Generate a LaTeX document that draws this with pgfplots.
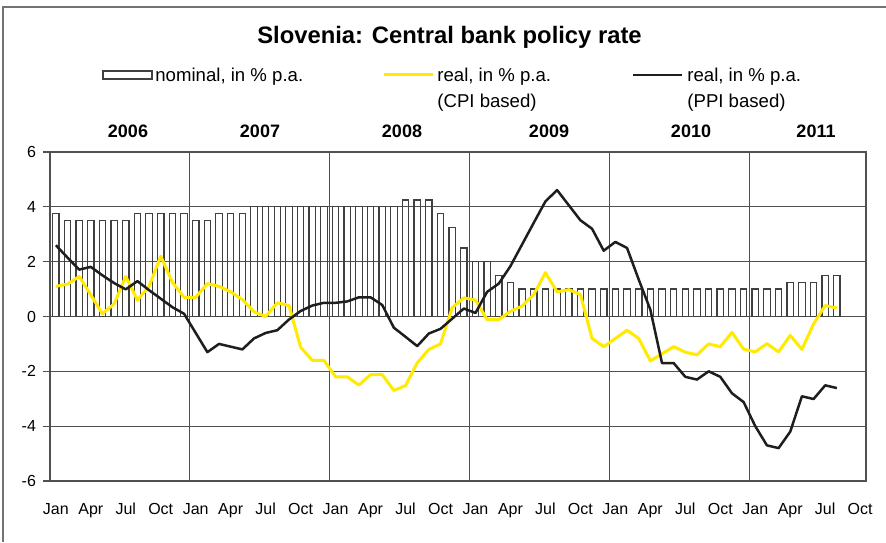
\documentclass[border=0pt]{standalone}
\usepackage{pgfplots}
\pgfplotsset{compat=1.18}
\usepackage{pgfplotstable}
\usepackage{fontspec}
\setmainfont{Liberation Sans}
\definecolor{cpiyellow}{RGB}{255,234,0}
\definecolor{gridgray}{RGB}{80,80,80}
\definecolor{ppiblack}{RGB}{30,30,30}

% month index 0 = Jan 2006
\pgfplotstableread{
i  nom   cpi    ppi
0  3.75  1.10   2.60
1  3.5   1.18   2.15
2  3.5   1.46   1.71
3  3.5   0.79   1.81
4  3.5   0.10   1.50
5  3.5   0.46   1.22
6  3.5   1.46   0.99
7  3.75  0.60   1.29
8  3.75  1.10   0.96
9  3.75  2.20   0.65
10 3.75  1.25   0.34
11 3.75  0.70   0.10
12 3.5   0.70  -0.60
13 3.5   1.20  -1.30
14 3.75  1.10  -1.00
15 3.75  0.90  -1.10
16 3.75  0.62  -1.20
17 4.0   0.17  -0.80
18 4.0   0.00  -0.60
19 4.0   0.50  -0.50
20 4.0   0.40  -0.11
21 4.0  -1.12   0.20
22 4.0  -1.60   0.40
23 4.0  -1.60   0.50
24 4.0  -2.20   0.50
25 4.0  -2.20   0.55
26 4.0  -2.50   0.70
27 4.0  -2.12   0.70
28 4.0  -2.12   0.42
29 4.0  -2.70  -0.41
30 4.25 -2.52  -0.74
31 4.25 -1.69  -1.08
32 4.25 -1.20  -0.62
33 3.75 -1.00  -0.45
34 3.25  0.32  -0.08
35 2.5   0.68   0.29
36 2.0   0.60   0.13
37 2.0  -0.11   0.90
38 1.5  -0.11   1.20
39 1.25  0.19   1.84
40 1.0   0.38   2.63
41 1.0   0.80   3.42
42 1.0   1.60   4.20
43 1.0   0.90   4.61
44 1.0   0.98   4.06
45 1.0   0.80   3.51
46 1.0  -0.80   3.20
47 1.0  -1.10   2.40
48 1.0  -0.80   2.72
49 1.0  -0.50   2.50
50 1.0  -0.80   1.35
51 1.0  -1.62   0.25
52 1.0  -1.36  -1.70
53 1.0  -1.10  -1.70
54 1.0  -1.30  -2.20
55 1.0  -1.40  -2.30
56 1.0  -1.00  -2.00
57 1.0  -1.10  -2.20
58 1.0  -0.58  -2.80
59 1.0  -1.19  -3.12
60 1.0  -1.29  -4.00
61 1.0  -0.99  -4.70
62 1.0  -1.29  -4.80
63 1.25 -0.69  -4.20
64 1.25 -1.20  -2.91
65 1.25 -0.27  -3.01
66 1.5   0.40  -2.51
67 1.5   0.31  -2.61
}\ratedata

\begin{document}
\begin{tikzpicture}
\useasboundingbox (0,0) rectangle (443pt,271pt);
% outer frame (top and left edges visible)
\draw[black!55, line width=0.6pt] (1.5pt,0) -- (1.5pt,267.5pt) -- (443pt,267.5pt);

\begin{axis}[
  at={(25pt,30.5pt)}, anchor=south west,
  scale only axis, width=408pt, height=164.5pt,
  xmin=-0.5, xmax=69.5, ymin=-6, ymax=6,
  xtick={0,3,...,69},
  xticklabels={Jan,Apr,Jul,Oct,Jan,Apr,Jul,Oct,Jan,Apr,Jul,Oct,
               Jan,Apr,Jul,Oct,Jan,Apr,Jul,Oct,Jan,Apr,Jul,Oct},
  xtick style={draw=none},
  extra x ticks={11.5,23.5,35.5,47.5,59.5},
  extra x tick labels={},
  extra x tick style={grid=major, major tick length=0pt},
  ytick={-6,-4,...,6},
  yticklabels={-6,-4,-2,0,2,4,6},
  ytick pos=left,
  tick align=outside,
  major tick length=3.5pt,
  ymajorgrids,
  major grid style={gridgray, line width=0.6pt},
  axis line style={gridgray, line width=0.6pt},
  ytick style={gridgray, line width=0.6pt},
  ticklabel style={font=\fontsize{8}{9.6}\selectfont},
  xticklabel style={yshift=-4pt},
]
\addplot[ybar, bar width=0.55, draw=black!75, fill=none, line width=0.6pt]
  table[x=i, y=nom] {\ratedata};
\addplot[cpiyellow, line width=1.5pt, no marks, line join=round]
  table[x=i, y=cpi] {\ratedata};
\addplot[ppiblack, line width=1.25pt, no marks, line join=round]
  table[x=i, y=ppi] {\ratedata};
\end{axis}

% title
\node[font=\bfseries\fontsize{11.9}{14}\selectfont] at (224.75pt,252.5pt)
  {Slovenia: Central bank policy rate};

% legend
\draw[black!75, line width=0.6pt] (51.5pt,231.5pt) rectangle (76pt,235.5pt);
\node[anchor=base west, inner sep=0pt, font=\fontsize{9.3}{11}\selectfont]
  at (77.5pt,230pt) {nominal, in \% p.a.};
\draw[cpiyellow, line width=1.5pt] (192pt,233.5pt) -- (216.5pt,233.5pt);
\node[anchor=base west, inner sep=0pt, font=\fontsize{9.3}{11}\selectfont]
  at (218.5pt,230pt) {real, in \% p.a.};
\node[anchor=base west, inner sep=0pt, font=\fontsize{9.3}{11}\selectfont]
  at (218.5pt,217.5pt) {(CPI based)};
\draw[ppiblack, line width=1.25pt] (316.5pt,233.5pt) -- (341pt,233.5pt);
\node[anchor=base west, inner sep=0pt, font=\fontsize{9.3}{11}\selectfont]
  at (343.5pt,230pt) {real, in \% p.a.};
\node[anchor=base west, inner sep=0pt, font=\fontsize{9.3}{11}\selectfont]
  at (343.5pt,217.5pt) {(PPI based)};

% year labels
\foreach \yr/\xx in {2006/64,2007/130,2008/201,2009/274.5,2010/345.5,2011/408}
  \node[anchor=base, inner sep=0pt, font=\bfseries\fontsize{9}{11}\selectfont]
    at (\xx pt,202.5pt) {\yr};
\end{tikzpicture}
\end{document}
